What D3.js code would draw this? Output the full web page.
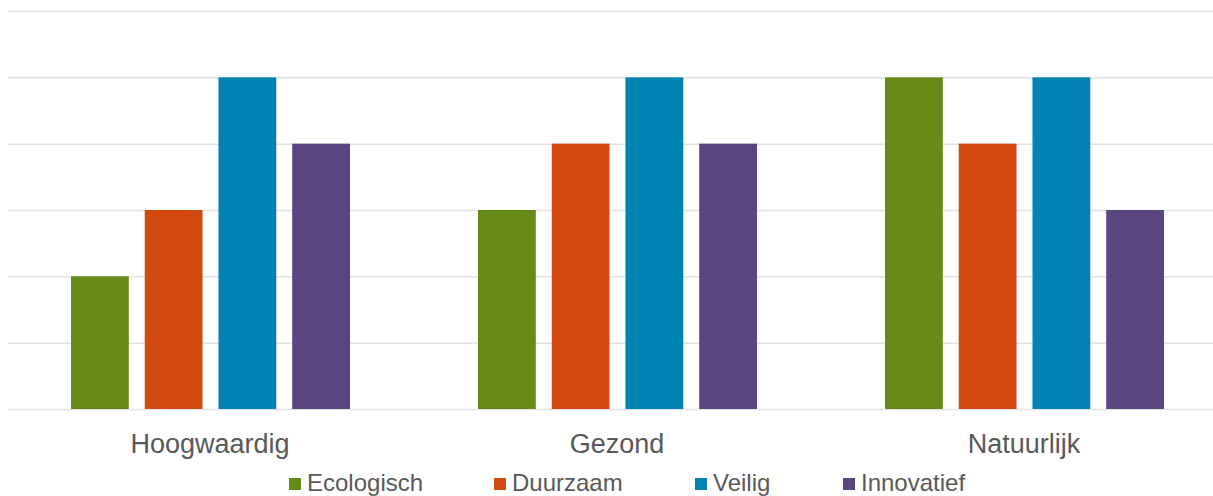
<!DOCTYPE html>
<html>
<head>
	<meta charset="UTF-8"/>
	<title>Hoogwaardig, Gezond, Natuurlijk</title>
	<style type="text/css">
		body {
		margin: 0;
		background: #fff;
		font-family: 'Liberation Sans', Arial, sans-serif;
		}
		svg {
		display: block;
		}
		.grid line {
		stroke: #e3e3e3;
		stroke-width: 1.5;
		}
		.grid path {
		stroke-width: 0;
		}
		text.cat {
		font-size: 27px;
		fill: #595959;
		}
		text.legend {
		font-size: 24px;
		fill: #595959;
		}
	</style>
	<script src="https://d3js.org/d3.v7.min.js"></script>
</head>
<body>
	<svg width="1213" height="496"></svg>
	<script>
		const categories = ['Hoogwaardig', 'Gezond', 'Natuurlijk'];
		const series = ['Ecologisch', 'Duurzaam', 'Veilig', 'Innovatief'];
		const colors = ['#658b16', '#d2490f', '#0083b3', '#5b4580'];
		// values per category, in series order
		const ecologisch = [2, 3, 5];
		const duurzaam = [3, 4, 4];
		const veilig = [5, 5, 5];
		const innovatief = [4, 4, 3];
		const yTicks = [0, 1, 2, 3, 4, 5, 6];

		const values = [ecologisch, duurzaam, veilig, innovatief];
		const rows = categories.map((c, i) => ({
			category: c,
			bars: series.map((s, j) => ({ name: s, value: values[j][i], color: colors[j] }))
		}));

		const svg = d3.select('svg');
		const plotLeft = 8, plotRight = 1229, plotTop = 11, plotBottom = 409;

		const yScale = d3.scaleLinear()
			.domain([0, 6])
			.range([plotBottom, plotTop]);

		const x0 = d3.scaleBand()
			.domain(categories)
			.range([plotLeft, plotRight]);

		const x1 = d3.scaleBand()
			.domain(series)
			.range([63, 342])
			.paddingInner(0.216);

		// gridlines
		svg.append('g')
			.attr('class', 'grid')
			.attr('transform', `translate(${plotLeft}, 0)`)
			.call(d3.axisLeft(yScale).tickValues(yTicks).tickSize(-(plotRight - plotLeft)).tickFormat(''));

		// bars
		const groups = svg.selectAll('g.group')
			.data(rows)
			.enter()
			.append('g')
			.attr('class', 'group')
			.attr('transform', (d) => `translate(${x0(d.category)}, 0)`);

		groups.selectAll('rect')
			.data((d) => d.bars)
			.enter()
			.append('rect')
			.attr('x', (d) => x1(d.name))
			.attr('y', (d) => yScale(d.value))
			.attr('width', x1.bandwidth())
			.attr('height', (d) => plotBottom - yScale(d.value))
			.attr('fill', (d) => d.color);

		// category labels
		svg.selectAll('text.cat')
			.data(categories)
			.enter()
			.append('text')
			.attr('class', 'cat')
			.attr('x', (d) => x0(d) + 202)
			.attr('y', 453)
			.attr('text-anchor', 'middle')
			.text((d) => d);

		// legend
		const legendX = [289, 494, 695, 843];
		const legend = svg.selectAll('g.legend')
			.data(series)
			.enter()
			.append('g')
			.attr('class', 'legend')
			.attr('transform', (d, i) => `translate(${legendX[i]}, 478)`);

		legend.append('rect')
			.attr('width', 12)
			.attr('height', 12)
			.attr('fill', (d, i) => colors[i]);

		legend.append('text')
			.attr('class', 'legend')
			.attr('x', 18)
			.attr('y', 13)
			.text((d) => d);
	</script>
</body>
</html>
